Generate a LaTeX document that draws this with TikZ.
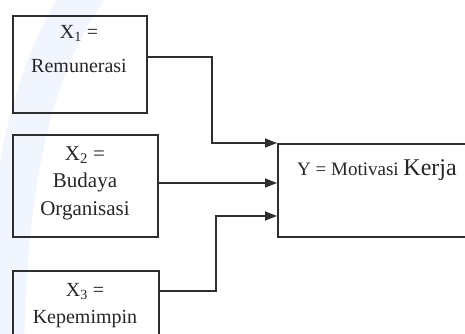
\documentclass[tikz,border=0pt]{standalone}
\usepackage{fontspec}
\setmainfont{Liberation Serif}
\usepackage{xcolor}
\usepackage{tikz}
\usetikzlibrary{calc}
\usetikzlibrary{arrows.meta,positioning}

\definecolor{linegray}{HTML}{2E2E2E}
\definecolor{markblue}{HTML}{F1F5FD}

\begin{document}
\begin{tikzpicture}
        [x=1pt,y=-1pt,
          box/.style={draw=linegray,line width=1.6pt,rectangle,inner sep=0pt,anchor=north west},
          boxtext/.style={align=center,inner sep=0pt,anchor=north,text=black!85},
          conn/.style={draw=linegray,line width=1.6pt},
          arr/.style={conn,-{Triangle[length=12pt,width=9pt]}}]
        \clip (0,0) rectangle (465,334);
        \fill[white] (0,0) rectangle (465,334);
        % faint watermark band
        \draw[markblue,line width=40pt] (90,-15) .. controls (30,70) and (8,180) .. (4,345);

        \node[box,minimum width=134pt,minimum height=97pt] (X1) at (12,15) {};
        \node[box,minimum width=145pt,minimum height=102pt] (X2) at (12,134) {};
        \node[box,minimum width=146pt,minimum height=90pt] (X3) at (12,270) {};
        \node[box,minimum width=220pt,minimum height=93pt] (Y) at (277,143) {};

        \node[boxtext,font=\fontsize{20}{34}\selectfont] (t1) at (79,25) {X\textsubscript{1} =\\Remunerasi};
        \node[boxtext,font=\fontsize{21}{27.5}\selectfont] (t2) at (85,146.5) {X\textsubscript{2} =\\Budaya\\Organisasi};
        \node[boxtext,font=\fontsize{20}{27}\selectfont] (t3) at (85,283) {X\textsubscript{3} =\\Kepemimpin};
        \node[anchor=west,inner sep=0pt,text=black!85] (ty) at (297,170)
          {\fontsize{19}{22}\selectfont Y = Motivasi {\fontsize{24}{26}\selectfont Kerja}};

        \coordinate (k1) at (212,57);
        \coordinate (k3) at (216,291);
        \draw[arr] (X1.east |- k1) -| (k1 |- Y.north west) -- (Y.north west);
        \draw[arr] (X2.east |- 0,183) -- (Y.west |- 0,183);
        \draw[arr] (X3.east |- k3) -| (k3 |- 0,216) -- (Y.west |- 0,216);
      \end{tikzpicture}
\end{document}
